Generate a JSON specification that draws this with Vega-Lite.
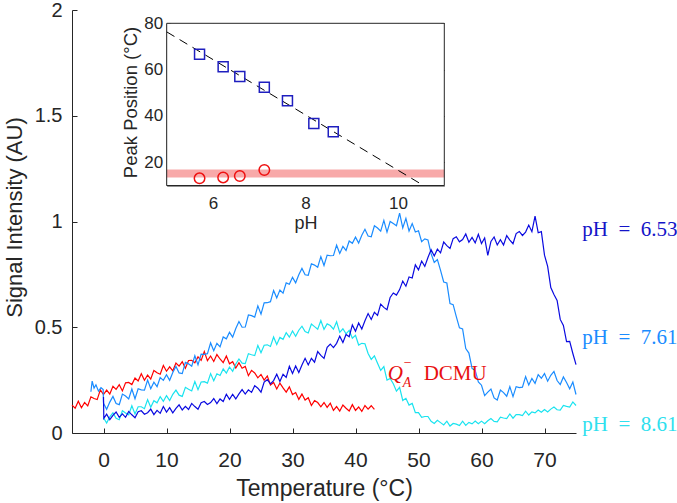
{
"$schema":"https://vega.github.io/schema/vega-lite/v6.json",
"width":504,"height":423,
"autosize":{"type":"none"},
"padding":{"left":72,"top":10,"right":101,"bottom":70},
"config":{"view":{"stroke":null},"font":"Liberation Sans"},
"datasets":{
"red":[{"T":-5,"v":0.132},{"T":-4.5,"v":0.117},{"T":-4,"v":0.150},{"T":-3.5,"v":0.119},{"T":-3,"v":0.144},{"T":-2.5,"v":0.128},{"T":-2,"v":0.171},{"T":-1.5,"v":0.163},{"T":-1,"v":0.158},{"T":-0.5,"v":0.204},{"T":0,"v":0.182},{"T":0.5,"v":0.203},{"T":1,"v":0.184},{"T":1.5,"v":0.221},{"T":2,"v":0.206},{"T":2.5,"v":0.228},{"T":3,"v":0.199},{"T":3.5,"v":0.237},{"T":4,"v":0.239},{"T":4.5,"v":0.229},{"T":5,"v":0.260},{"T":5.5,"v":0.246},{"T":6,"v":0.280},{"T":6.5,"v":0.249},{"T":7,"v":0.274},{"T":7.5,"v":0.255},{"T":8,"v":0.296},{"T":8.5,"v":0.285},{"T":9,"v":0.278},{"T":9.5,"v":0.319},{"T":10,"v":0.292},{"T":10.5,"v":0.313},{"T":11,"v":0.294},{"T":11.5,"v":0.331},{"T":12,"v":0.316},{"T":12.5,"v":0.337},{"T":13,"v":0.306},{"T":13.5,"v":0.343},{"T":14,"v":0.344},{"T":14.5,"v":0.332},{"T":15,"v":0.360},{"T":15.5,"v":0.343},{"T":16,"v":0.385},{"T":16.5,"v":0.342},{"T":17,"v":0.364},{"T":17.5,"v":0.338},{"T":18,"v":0.371},{"T":18.5,"v":0.350},{"T":19,"v":0.333},{"T":19.5,"v":0.364},{"T":20,"v":0.327},{"T":20.5,"v":0.337},{"T":21,"v":0.307},{"T":21.5,"v":0.332},{"T":22,"v":0.306},{"T":22.5,"v":0.315},{"T":23,"v":0.271},{"T":23.5,"v":0.296},{"T":24,"v":0.284},{"T":24.5,"v":0.261},{"T":25,"v":0.277},{"T":25.5,"v":0.250},{"T":26,"v":0.270},{"T":26.5,"v":0.227},{"T":27,"v":0.239},{"T":27.5,"v":0.208},{"T":28,"v":0.236},{"T":28.5,"v":0.213},{"T":29,"v":0.193},{"T":29.5,"v":0.218},{"T":30,"v":0.182},{"T":30.5,"v":0.191},{"T":31,"v":0.159},{"T":31.5,"v":0.184},{"T":32,"v":0.156},{"T":32.5,"v":0.167},{"T":33,"v":0.130},{"T":33.5,"v":0.153},{"T":34,"v":0.144},{"T":34.5,"v":0.124},{"T":35,"v":0.144},{"T":35.5,"v":0.121},{"T":36,"v":0.141},{"T":36.5,"v":0.107},{"T":37,"v":0.125},{"T":37.5,"v":0.104},{"T":38,"v":0.132},{"T":38.5,"v":0.117},{"T":39,"v":0.104},{"T":39.5,"v":0.134},{"T":40,"v":0.107},{"T":40.5,"v":0.123},{"T":41,"v":0.102},{"T":41.5,"v":0.130},{"T":42,"v":0.113},{"T":42.5,"v":0.129},{"T":43,"v":0.112}],
"cyan":[{"T":0,"v":0.072},{"T":0.5,"v":0.047},{"T":1,"v":0.076},{"T":1.5,"v":0.095},{"T":2,"v":0.070},{"T":2.5,"v":0.063},{"T":3,"v":0.105},{"T":3.5,"v":0.095},{"T":4,"v":0.086},{"T":4.5,"v":0.129},{"T":5,"v":0.090},{"T":5.5,"v":0.124},{"T":6,"v":0.124},{"T":6.5,"v":0.115},{"T":7,"v":0.158},{"T":7.5,"v":0.122},{"T":8,"v":0.153},{"T":8.5,"v":0.143},{"T":9,"v":0.172},{"T":9.5,"v":0.150},{"T":10,"v":0.177},{"T":10.5,"v":0.153},{"T":11,"v":0.183},{"T":11.5,"v":0.203},{"T":12,"v":0.179},{"T":12.5,"v":0.173},{"T":13,"v":0.216},{"T":13.5,"v":0.207},{"T":14,"v":0.199},{"T":14.5,"v":0.243},{"T":15,"v":0.205},{"T":15.5,"v":0.241},{"T":16,"v":0.243},{"T":16.5,"v":0.236},{"T":17,"v":0.281},{"T":17.5,"v":0.247},{"T":18,"v":0.280},{"T":18.5,"v":0.272},{"T":19,"v":0.303},{"T":19.5,"v":0.283},{"T":20,"v":0.312},{"T":20.5,"v":0.292},{"T":21,"v":0.326},{"T":21.5,"v":0.350},{"T":22,"v":0.330},{"T":22.5,"v":0.328},{"T":23,"v":0.375},{"T":23.5,"v":0.370},{"T":24,"v":0.366},{"T":24.5,"v":0.414},{"T":25,"v":0.380},{"T":25.5,"v":0.415},{"T":26,"v":0.417},{"T":26.5,"v":0.409},{"T":27,"v":0.454},{"T":27.5,"v":0.419},{"T":28,"v":0.452},{"T":28.5,"v":0.443},{"T":29,"v":0.474},{"T":29.5,"v":0.453},{"T":30,"v":0.482},{"T":30.5,"v":0.457},{"T":31,"v":0.486},{"T":31.5,"v":0.505},{"T":32,"v":0.480},{"T":32.5,"v":0.473},{"T":33,"v":0.515},{"T":33.5,"v":0.503},{"T":34,"v":0.491},{"T":34.5,"v":0.532},{"T":35,"v":0.490},{"T":35.5,"v":0.516},{"T":36,"v":0.508},{"T":36.5,"v":0.491},{"T":37,"v":0.526},{"T":37.5,"v":0.476},{"T":38,"v":0.493},{"T":38.5,"v":0.469},{"T":39,"v":0.485},{"T":39.5,"v":0.448},{"T":40,"v":0.462},{"T":40.5,"v":0.416},{"T":41,"v":0.424},{"T":41.5,"v":0.422},{"T":42,"v":0.376},{"T":42.5,"v":0.348},{"T":43,"v":0.365},{"T":43.5,"v":0.330},{"T":44,"v":0.296},{"T":44.5,"v":0.314},{"T":45,"v":0.250},{"T":45.5,"v":0.258},{"T":46,"v":0.233},{"T":46.5,"v":0.198},{"T":47,"v":0.216},{"T":47.5,"v":0.154},{"T":48,"v":0.164},{"T":48.5,"v":0.132},{"T":49,"v":0.140},{"T":49.5,"v":0.096},{"T":50,"v":0.096},{"T":50.5,"v":0.074},{"T":51,"v":0.078},{"T":51.5,"v":0.078},{"T":52,"v":0.055},{"T":52.5,"v":0.045},{"T":53,"v":0.060},{"T":53.5,"v":0.049},{"T":54,"v":0.038},{"T":54.5,"v":0.056},{"T":55,"v":0.033},{"T":55.5,"v":0.045},{"T":56,"v":0.042},{"T":56.5,"v":0.035},{"T":57,"v":0.056},{"T":57.5,"v":0.036},{"T":58,"v":0.050},{"T":58.5,"v":0.043},{"T":59,"v":0.057},{"T":59.5,"v":0.044},{"T":60,"v":0.056},{"T":60.5,"v":0.044},{"T":61,"v":0.058},{"T":61.5,"v":0.068},{"T":62,"v":0.055},{"T":62.5,"v":0.053},{"T":63,"v":0.075},{"T":63.5,"v":0.071},{"T":64,"v":0.068},{"T":64.5,"v":0.090},{"T":65,"v":0.070},{"T":65.5,"v":0.087},{"T":66,"v":0.087},{"T":66.5,"v":0.082},{"T":67,"v":0.103},{"T":67.5,"v":0.085},{"T":68,"v":0.100},{"T":68.5,"v":0.095},{"T":69,"v":0.109},{"T":69.5,"v":0.098},{"T":70,"v":0.111},{"T":70.5,"v":0.099},{"T":71,"v":0.113},{"T":71.5,"v":0.123},{"T":72,"v":0.110},{"T":72.5,"v":0.108},{"T":73,"v":0.130},{"T":73.5,"v":0.126},{"T":74,"v":0.123},{"T":74.5,"v":0.147},{"T":75,"v":0.130}],
"light":[{"T":-2,"v":0.195},{"T":-1.8,"v":0.245},{"T":-1.5,"v":0.212},{"T":-1.2,"v":0.228},{"T":-0.8,"v":0.198},{"T":-0.4,"v":0.214},{"T":-0.05,"v":0.205},{"T":0,"v":0.141},{"T":0.5,"v":0.112},{"T":1,"v":0.146},{"T":1.5,"v":0.173},{"T":2,"v":0.139},{"T":2.5,"v":0.134},{"T":3,"v":0.184},{"T":3.5,"v":0.175},{"T":4,"v":0.161},{"T":4.5,"v":0.208},{"T":5,"v":0.162},{"T":5.5,"v":0.209},{"T":6,"v":0.204},{"T":6.5,"v":0.203},{"T":7,"v":0.250},{"T":7.5,"v":0.209},{"T":8,"v":0.240},{"T":8.5,"v":0.219},{"T":9,"v":0.262},{"T":9.5,"v":0.249},{"T":10,"v":0.276},{"T":10.5,"v":0.249},{"T":11,"v":0.286},{"T":11.5,"v":0.315},{"T":12,"v":0.284},{"T":12.5,"v":0.281},{"T":13,"v":0.334},{"T":13.5,"v":0.327},{"T":14,"v":0.316},{"T":14.5,"v":0.365},{"T":15,"v":0.322},{"T":15.5,"v":0.373},{"T":16,"v":0.372},{"T":16.5,"v":0.375},{"T":17,"v":0.426},{"T":17.5,"v":0.389},{"T":18,"v":0.424},{"T":18.5,"v":0.407},{"T":19,"v":0.454},{"T":19.5,"v":0.445},{"T":20,"v":0.476},{"T":20.5,"v":0.453},{"T":21,"v":0.494},{"T":21.5,"v":0.527},{"T":22,"v":0.500},{"T":22.5,"v":0.501},{"T":23,"v":0.558},{"T":23.5,"v":0.555},{"T":24,"v":0.548},{"T":24.5,"v":0.601},{"T":25,"v":0.562},{"T":25.5,"v":0.615},{"T":26,"v":0.616},{"T":26.5,"v":0.621},{"T":27,"v":0.674},{"T":27.5,"v":0.639},{"T":28,"v":0.676},{"T":28.5,"v":0.661},{"T":29,"v":0.710},{"T":29.5,"v":0.703},{"T":30,"v":0.736},{"T":30.5,"v":0.710},{"T":31,"v":0.748},{"T":31.5,"v":0.778},{"T":32,"v":0.748},{"T":32.5,"v":0.746},{"T":33,"v":0.800},{"T":33.5,"v":0.794},{"T":34,"v":0.784},{"T":34.5,"v":0.834},{"T":35,"v":0.792},{"T":35.5,"v":0.841},{"T":36,"v":0.838},{"T":36.5,"v":0.839},{"T":37,"v":0.888},{"T":37.5,"v":0.849},{"T":38,"v":0.882},{"T":38.5,"v":0.863},{"T":39,"v":0.908},{"T":39.5,"v":0.897},{"T":40,"v":0.926},{"T":40.5,"v":0.898},{"T":41,"v":0.935},{"T":41.5,"v":0.963},{"T":42,"v":0.931},{"T":42.5,"v":0.928},{"T":43,"v":0.980},{"T":43.5,"v":0.969},{"T":44,"v":0.954},{"T":44.5,"v":1.005},{"T":45,"v":0.950},{"T":45.5,"v":1.000},{"T":46,"v":0.990},{"T":46.5,"v":0.980},{"T":47,"v":1.040},{"T":47.5,"v":0.970},{"T":48,"v":1.015},{"T":48.5,"v":0.955},{"T":49,"v":0.990},{"T":49.5,"v":0.950},{"T":50,"v":0.956},{"T":50.5,"v":0.905},{"T":51,"v":0.918},{"T":51.5,"v":0.913},{"T":52,"v":0.848},{"T":52.5,"v":0.806},{"T":53,"v":0.820},{"T":53.5,"v":0.769},{"T":54,"v":0.714},{"T":54.5,"v":0.709},{"T":55,"v":0.612},{"T":55.5,"v":0.607},{"T":56,"v":0.550},{"T":56.5,"v":0.497},{"T":57,"v":0.492},{"T":57.5,"v":0.399},{"T":58,"v":0.378},{"T":58.5,"v":0.305},{"T":59,"v":0.296},{"T":59.5,"v":0.241},{"T":60,"v":0.226},{"T":60.5,"v":0.177},{"T":61,"v":0.193},{"T":61.5,"v":0.208},{"T":62,"v":0.166},{"T":62.5,"v":0.156},{"T":63,"v":0.203},{"T":63.5,"v":0.191},{"T":64,"v":0.174},{"T":64.5,"v":0.219},{"T":65,"v":0.172},{"T":65.5,"v":0.219},{"T":66,"v":0.215},{"T":66.5,"v":0.217},{"T":67,"v":0.267},{"T":67.5,"v":0.227},{"T":68,"v":0.258},{"T":68.5,"v":0.235},{"T":69,"v":0.276},{"T":69.5,"v":0.259},{"T":70,"v":0.281},{"T":70.5,"v":0.245},{"T":71,"v":0.273},{"T":71.5,"v":0.291},{"T":72,"v":0.248},{"T":72.5,"v":0.229},{"T":73,"v":0.265},{"T":73.5,"v":0.239},{"T":74,"v":0.209},{"T":74.5,"v":0.241},{"T":75,"v":0.182}],
"dark":[{"T":0,"v":0.170},{"T":0.05,"v":0.069},{"T":0.5,"v":0.089},{"T":1,"v":0.063},{"T":1.5,"v":0.083},{"T":2,"v":0.099},{"T":2.5,"v":0.074},{"T":3,"v":0.090},{"T":3.5,"v":0.074},{"T":4,"v":0.102},{"T":4.5,"v":0.086},{"T":5,"v":0.072},{"T":5.5,"v":0.101},{"T":6,"v":0.105},{"T":6.5,"v":0.089},{"T":7,"v":0.096},{"T":7.5,"v":0.113},{"T":8,"v":0.087},{"T":8.5,"v":0.107},{"T":9,"v":0.093},{"T":9.5,"v":0.125},{"T":10,"v":0.099},{"T":10.5,"v":0.120},{"T":11,"v":0.095},{"T":11.5,"v":0.116},{"T":12,"v":0.133},{"T":12.5,"v":0.109},{"T":13,"v":0.126},{"T":13.5,"v":0.111},{"T":14,"v":0.140},{"T":14.5,"v":0.125},{"T":15,"v":0.112},{"T":15.5,"v":0.143},{"T":16,"v":0.149},{"T":16.5,"v":0.135},{"T":17,"v":0.144},{"T":17.5,"v":0.163},{"T":18,"v":0.139},{"T":18.5,"v":0.161},{"T":19,"v":0.149},{"T":19.5,"v":0.183},{"T":20,"v":0.159},{"T":20.5,"v":0.183},{"T":21,"v":0.161},{"T":21.5,"v":0.185},{"T":22,"v":0.205},{"T":22.5,"v":0.184},{"T":23,"v":0.204},{"T":23.5,"v":0.192},{"T":24,"v":0.224},{"T":24.5,"v":0.212},{"T":25,"v":0.193},{"T":25.5,"v":0.241},{"T":26,"v":0.252},{"T":26.5,"v":0.232},{"T":27,"v":0.248},{"T":27.5,"v":0.278},{"T":28,"v":0.244},{"T":28.5,"v":0.278},{"T":29,"v":0.263},{"T":29.5,"v":0.315},{"T":30,"v":0.281},{"T":30.5,"v":0.317},{"T":31,"v":0.286},{"T":31.5,"v":0.322},{"T":32,"v":0.353},{"T":32.5,"v":0.322},{"T":33,"v":0.353},{"T":33.5,"v":0.335},{"T":34,"v":0.385},{"T":34.5,"v":0.367},{"T":35,"v":0.353},{"T":35.5,"v":0.405},{"T":36,"v":0.420},{"T":36.5,"v":0.404},{"T":37,"v":0.424},{"T":37.5,"v":0.458},{"T":38,"v":0.428},{"T":38.5,"v":0.466},{"T":39,"v":0.455},{"T":39.5,"v":0.511},{"T":40,"v":0.481},{"T":40.5,"v":0.520},{"T":41,"v":0.492},{"T":41.5,"v":0.531},{"T":42,"v":0.565},{"T":42.5,"v":0.537},{"T":43,"v":0.571},{"T":43.5,"v":0.556},{"T":44,"v":0.609},{"T":44.5,"v":0.594},{"T":45,"v":0.583},{"T":45.5,"v":0.641},{"T":46,"v":0.662},{"T":46.5,"v":0.652},{"T":47,"v":0.678},{"T":47.5,"v":0.718},{"T":48,"v":0.694},{"T":48.5,"v":0.738},{"T":49,"v":0.733},{"T":49.5,"v":0.795},{"T":50,"v":0.771},{"T":50.5,"v":0.813},{"T":51,"v":0.788},{"T":51.5,"v":0.830},{"T":52,"v":0.867},{"T":52.5,"v":0.837},{"T":53,"v":0.869},{"T":53.5,"v":0.852},{"T":54,"v":0.903},{"T":54.5,"v":0.886},{"T":55,"v":0.873},{"T":55.5,"v":0.919},{"T":56,"v":0.928},{"T":56.5,"v":0.904},{"T":57,"v":0.915},{"T":57.5,"v":0.941},{"T":58,"v":0.902},{"T":58.5,"v":0.925},{"T":59,"v":0.899},{"T":59.5,"v":0.940},{"T":60,"v":0.896},{"T":60.5,"v":0.922},{"T":61,"v":0.840},{"T":61.5,"v":0.906},{"T":62,"v":0.927},{"T":62.5,"v":0.889},{"T":63,"v":0.914},{"T":63.5,"v":0.889},{"T":64,"v":0.933},{"T":64.5,"v":0.912},{"T":65,"v":0.895},{"T":65.5,"v":0.943},{"T":66,"v":0.953},{"T":66.5,"v":0.934},{"T":67,"v":0.950},{"T":67.5,"v":0.983},{"T":68,"v":0.952},{"T":68.5,"v":1.025},{"T":69,"v":0.947},{"T":69.5,"v":0.952},{"T":70,"v":0.841},{"T":70.5,"v":0.788},{"T":71,"v":0.688},{"T":71.5,"v":0.655},{"T":72,"v":0.627},{"T":72.5,"v":0.537},{"T":73,"v":0.509},{"T":73.5,"v":0.432},{"T":74,"v":0.433},{"T":74.5,"v":0.376},{"T":75,"v":0.323}],
"labels":[{"T":76,"v":0.96,"t":"pH\u2002=\u20026.53","s":"6.53"},{"T":76,"v":0.45,"t":"pH\u2002=\u20027.61","s":"7.61"},{"T":76,"v":0.04,"t":"pH\u2002=\u20028.61","s":"8.61"}],
"qlab":[{"T":45.1,"v":0.278}],
"box":[{"pH":5,"pH2":11,"P":10,"P2":80}],
"band":[{"pH":5,"pH2":11,"P":13.5,"P2":16.9}],
"fit":[{"pH":5,"P":76.3},{"pH":10.55,"P":10}],
"sq":[{"pH":5.71,"P":66.6},{"pH":6.22,"P":61.3},{"pH":6.58,"P":57.0},{"pH":7.11,"P":52.4},{"pH":7.61,"P":46.6},{"pH":8.18,"P":36.8},{"pH":8.60,"P":33.2}],
"circ":[{"pH":5.71,"P":13.1},{"pH":6.22,"P":13.5},{"pH":6.58,"P":14.1},{"pH":7.11,"P":16.7}]
},
"layer":[
{
"encoding":{
"x":{"field":"T","type":"quantitative","scale":{"domain":[-5,75],"nice":false,"zero":false},
"axis":{"orient":"bottom","values":[0,10,20,30,40,50,60,70],"grid":false,"tickSize":-5,"labelPadding":21,"labelFontSize":21,"labelFont":"Liberation Sans","labelColor":"#262626","tickColor":"#262626","domainColor":"#262626","title":"Temperature (°C)","titleFontSize":23,"titleFont":"Liberation Sans","titleFontWeight":"normal","titleColor":"#262626","titleBaseline":"alphabetic","titleY":62}},
"y":{"field":"v","type":"quantitative","scale":{"domain":[0,2],"nice":false,"zero":false},
"axis":{"orient":"left","values":[0,0.5,1,1.5,2],"format":"~g","grid":false,"tickSize":-5,"labelPadding":15,"labelFontSize":20,"labelFont":"Liberation Sans","labelColor":"#262626","tickColor":"#262626","domainColor":"#262626","title":"Signal Intensity (AU)","titleFontSize":22,"titleFont":"Liberation Sans","titleFontWeight":"normal","titleColor":"#262626","titleBaseline":"alphabetic","titleX":-51,"titleY":207}}
},
"layer":[
{"data":{"name":"red"},"mark":{"type":"line","color":"#ff0000","strokeWidth":1.2}},
{"data":{"name":"cyan"},"mark":{"type":"line","color":"#19e3ef","strokeWidth":1.2}},
{"data":{"name":"light"},"mark":{"type":"line","color":"#1a8cff","strokeWidth":1.2}},
{"data":{"name":"dark"},"mark":{"type":"line","color":"#0a0ae0","strokeWidth":1.2}},
{"data":{"name":"labels"},"mark":{"type":"text","align":"left","baseline":"middle","font":"Liberation Serif","fontSize":21},
"encoding":{"text":{"field":"t"},"color":{"field":"s","type":"nominal","scale":{"domain":["6.53","7.61","8.61"],"range":["#1414c8","#1a8cff","#2fe0ee"]},"legend":null}}},
{"data":{"name":"qlab"},"mark":{"type":"text","align":"left","baseline":"middle","font":"Liberation Serif","fontStyle":"italic","fontSize":21,"color":"#e81010","text":"Q"}},
{"data":{"name":"qlab"},"mark":{"type":"text","align":"left","baseline":"middle","font":"Liberation Serif","fontSize":14,"color":"#e81010","text":"−","dx":16,"dy":-11}},
{"data":{"name":"qlab"},"mark":{"type":"text","align":"left","baseline":"middle","font":"Liberation Serif","fontStyle":"italic","fontSize":14,"color":"#e81010","text":"A","dx":15,"dy":9}},
{"data":{"name":"qlab"},"mark":{"type":"text","align":"left","baseline":"middle","font":"Liberation Serif","fontSize":21,"color":"#e81010","text":"DCMU","dx":36}}
]
},
{
"encoding":{
"x":{"field":"pH","type":"quantitative","scale":{"domain":[5,11],"range":[94.7,372.3],"nice":false,"zero":false},
"axis":{"orient":"bottom","offset":-247.5,"values":[6,8,10],"grid":false,"tickSize":-4,"labelPadding":14,"labelFontSize":17,"labelFont":"Liberation Sans","labelColor":"#262626","tickColor":"#262626","domainColor":"#262626","title":"pH","titleFontSize":18,"titleFont":"Liberation Sans","titleFontWeight":"normal","titleColor":"#262626","titleBaseline":"alphabetic","titleY":43}},
"y":{"field":"P","type":"quantitative","scale":{"domain":[10,80],"range":[175.5,13.3],"nice":false,"zero":false},
"axis":{"orient":"left","offset":-94.7,"values":[20,40,60,80],"grid":false,"tickSize":-4,"labelPadding":8,"labelFontSize":17,"labelFont":"Liberation Sans","labelColor":"#262626","tickColor":"#262626","domainColor":"#262626","title":"Peak Position (°C)","titleFontSize":18.5,"titleFont":"Liberation Sans","titleFontWeight":"normal","titleColor":"#262626","titleBaseline":"alphabetic","titleX":-30,"titleY":92}}
},
"layer":[
{"data":{"name":"box"},"mark":{"type":"rect","fill":"white","stroke":null},"encoding":{"x2":{"field":"pH2"},"y2":{"field":"P2"}}},
{"data":{"name":"band"},"mark":{"type":"rect","fill":"#f8a9a9","stroke":null},"encoding":{"x2":{"field":"pH2"},"y2":{"field":"P2"}}},
{"data":{"name":"fit"},"mark":{"type":"line","color":"#000000","strokeWidth":1,"strokeDash":[9,6]}},
{"data":{"name":"sq"},"mark":{"type":"point","shape":"square","size":100,"filled":false,"color":"#1f1fbf","strokeWidth":1.5,"opacity":1}},
{"data":{"name":"circ"},"mark":{"type":"point","shape":"circle","size":110,"filled":false,"color":"#ee1111","strokeWidth":1.5,"opacity":1}}
]
},
{
"data":{"name":"box"},
"mark":{"type":"rect","fill":null,"stroke":"#262626","strokeWidth":1},
"encoding":{
"x":{"field":"pH","type":"quantitative","scale":{"domain":[5,11],"range":[94.7,372.3],"nice":false,"zero":false},
"axis":{"orient":"top","offset":-13.3,"values":[6,8,10],"grid":false,"tickSize":-4,"labels":false,"domain":false,"tickColor":"#262626","title":null}},
"x2":{"field":"pH2"},
"y":{"field":"P","type":"quantitative","scale":{"domain":[10,80],"range":[175.5,13.3],"nice":false,"zero":false},
"axis":{"orient":"right","offset":-131.7,"values":[20,40,60,80],"grid":false,"tickSize":-4,"labels":false,"domain":false,"tickColor":"#262626","title":null}},
"y2":{"field":"P2"}
}
}
],
"resolve":{"scale":{"x":"independent","y":"independent"},"axis":{"x":"independent","y":"independent"}}
}
